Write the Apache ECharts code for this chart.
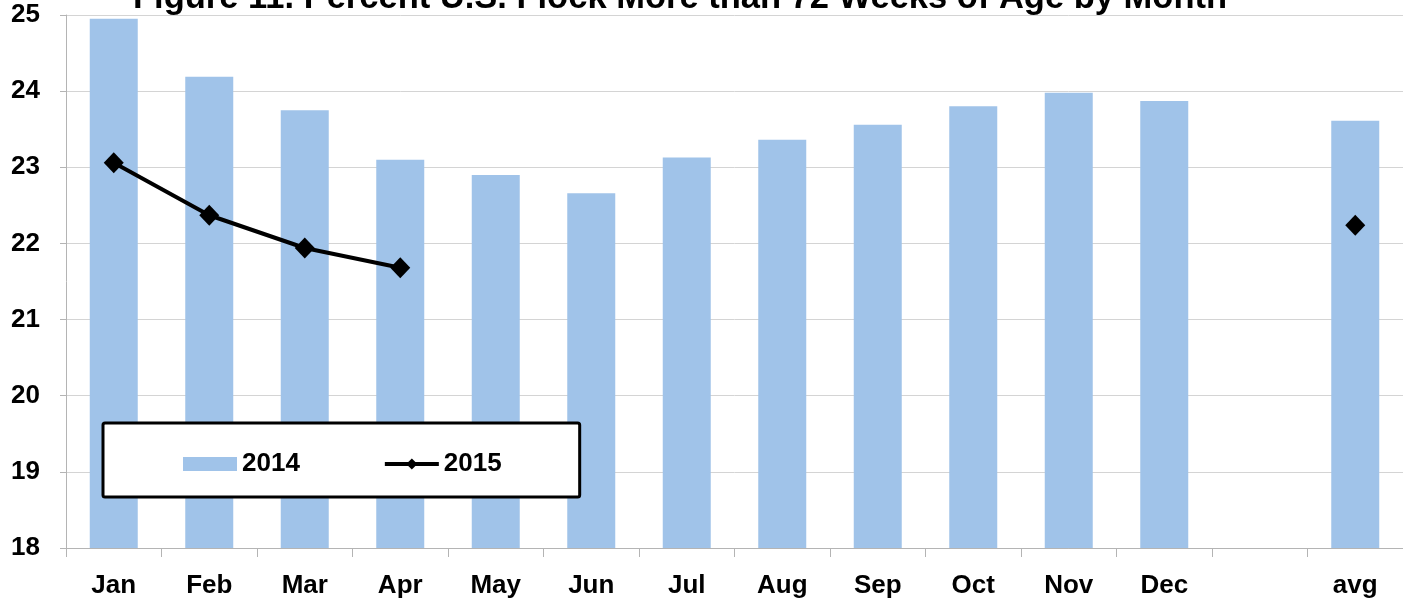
<!DOCTYPE html>
<html>
<head>
<meta charset="utf-8">
<script src="https://cdn.jsdelivr.net/npm/echarts@6/dist/echarts.min.js"></script>
<style>
  html, body { margin: 0; padding: 0; background: #fff; }
  #chart { width: 1403px; height: 602px; }
</style>
</head>
<body>
<div id="chart"></div>
<script>
// categories, the 13th slot is left empty on purpose
var months = ['Jan', 'Feb', 'Mar', 'Apr', 'May', 'Jun', 'Jul', 'Aug', 'Sep', 'Oct', 'Nov', 'Dec', '', 'avg'];
// 2014 bars
var flock2014 = [24.95, 24.19, 23.75, 23.10, 22.90, 22.66, 23.13, 23.36, 23.56, 23.80, 23.98, 23.87, null, 23.61];
// 2015 line (only Jan-Apr plus avg)
var flock2015 = [23.06, 22.37, 21.94, 21.68, null, null, null, null, null, null, null, null, null, 22.24];
var yTicks = [18, 19, 20, 21, 22, 23, 24, 25];

var titleText = 'Figure 11. Percent U.S. Flock More than 72 Weeks of Age by Month';
var font = 'Liberation Sans, Arial, sans-serif';

var chart = echarts.init(document.getElementById('chart'));

var option = {
	animation: false,
	backgroundColor: '#fff',
	graphic: [{
		type: 'text',
		x: 680,
		y: -19,
		z: 10,
		style: {
			text: titleText,
			fill: '#000',
			font: 'bold 34.5px ' + font,
			textAlign: 'center',
			textVerticalAlign: 'top'
		}
	}],
	legend: {
		left: 103,
		top: 423,
		orient: 'horizontal',
		backgroundColor: '#fff',
		borderColor: '#000',
		borderWidth: 3,
		borderRadius: 2,
		padding: [28, 78, 20, 80],
		itemWidth: 54,
		itemHeight: 14,
		itemGap: 83,
		textStyle: {
			fontFamily: font,
			fontWeight: 'bold',
			fontSize: 26,
			color: '#000'
		},
		data: [{ name: '2014', icon: 'rect' }, { name: '2015', lineStyle: { width: 4 } }],
		z: 20
	},
	grid: {
		left: 66,
		right: -6,
		top: 15,
		bottom: 54,
		containLabel: false
	},
	xAxis: {
		type: 'category',
		data: months,
		boundaryGap: true,
		axisLine: { lineStyle: { color: '#b4b4b4', width: 1 } },
		axisTick: { show: true, length: 9, lineStyle: { color: '#b4b4b4' } },
		axisLabel: {
			fontFamily: font,
			fontWeight: 'bold',
			fontSize: 26,
			color: '#000',
			margin: 25
		}
	},
	yAxis: {
		type: 'value',
		min: yTicks[0],
		max: yTicks[yTicks.length - 1],
		interval: 1,
		axisLine: { show: true, lineStyle: { color: '#b4b4b4', width: 1 } },
		axisTick: { show: true, length: 6, lineStyle: { color: '#b4b4b4' } },
		splitLine: { show: true, lineStyle: { color: '#d4d4d4', width: 1 } },
		axisLabel: {
			fontFamily: font,
			fontWeight: 'bold',
			fontSize: 26,
			color: '#000',
			margin: 26
		}
	},
	series: [{
		name: '2014',
		type: 'bar',
		data: flock2014,
		barWidth: 48,
		itemStyle: { color: '#a0c3e9' }
	}, {
		name: '2015',
		type: 'line',
		data: flock2015,
		connectNulls: false,
		symbol: 'diamond',
		symbolSize: [20, 21],
		showSymbol: true,
		lineStyle: { color: '#000', width: 4 },
		itemStyle: { color: '#000' },
		z: 5
	}]
};

chart.setOption(option);
</script>
</body>
</html>
